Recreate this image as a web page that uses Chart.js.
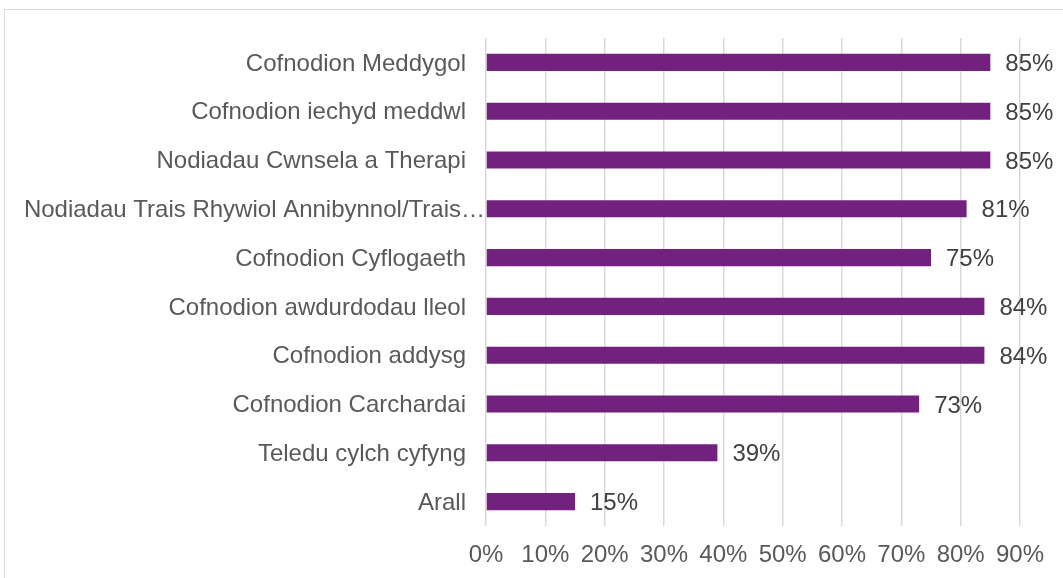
<!DOCTYPE html>
<html>
<head>
<meta charset="utf-8">
<script src="https://cdn.jsdelivr.net/npm/chart.js@4"></script>
<style>
  html, body { margin: 0; padding: 0; background: #ffffff; overflow: hidden; }
  #wrap { position: relative; width: 1063px; height: 578px; }
  #frame { position: absolute; left: 4px; top: 9px; width: 1100px; height: 600px; border: 1px solid #d9d9d9; box-sizing: border-box; }
  canvas { position: absolute; left: 0; top: 0; }
</style>
</head>
<body>
<div id="wrap">
  <div id="frame"></div>
  <canvas id="c" width="1063" height="578"></canvas>
</div>
<script>
const categories = [
  "Cofnodion Meddygol",
  "Cofnodion iechyd meddwl",
  "Nodiadau Cwnsela a Therapi",
  "Nodiadau Trais Rhywiol Annibynnol/Trais…",
  "Cofnodion Cyflogaeth",
  "Cofnodion awdurdodau lleol",
  "Cofnodion addysg",
  "Cofnodion Carchardai",
  "Teledu cylch cyfyng",
  "Arall"
];
const values = [85, 85, 85, 81, 75, 84, 84, 73, 39, 15];
const xTicks = [0, 10, 20, 30, 40, 50, 60, 70, 80, 90];

const FONT = "Liberation Sans, Arial, sans-serif";
const FONT_SIZE = 24;

const labelsPlugin = {
  id: 'labelsPlugin',
  afterDraw(chart) {
    const ctx = chart.ctx;
    const ys = chart.scales.y;
    const area = chart.chartArea;
    ctx.save();
    ctx.font = FONT_SIZE + 'px ' + FONT;
    // category labels
    ctx.fillStyle = '#595959';
    ctx.textAlign = 'right';
    ctx.textBaseline = 'middle';
    const avail = area.left - 27;
    categories.forEach((c, i) => {
      const y = ys.getPixelForTick(i) + 1.5;
      const w = ctx.measureText(c).width;
      const xr = (w + 20 > avail) ? area.left - 1 : area.left - 20;
      ctx.fillText(c, xr, y);
    });
    // data labels
    ctx.fillStyle = '#404040';
    ctx.textAlign = 'left';
    const meta = chart.getDatasetMeta(0);
    meta.data.forEach((bar, i) => {
      ctx.fillText(values[i] + '%', bar.x + 15, bar.y + 2);
    });
    ctx.restore();
  }
};

new Chart(document.getElementById('c'), {
  type: 'bar',
  data: {
    labels: categories,
    datasets: [{
      data: values,
      backgroundColor: '#73217F',
      borderWidth: 0,
      categoryPercentage: 1,
      barPercentage: 0.35
    }]
  },
  options: {
    indexAxis: 'y',
    responsive: false,
    devicePixelRatio: 1,
    animation: false,
    layout: { padding: { top: 38, right: 43, left: 0, bottom: 0 } },
    plugins: { legend: { display: false }, tooltip: { enabled: false } },
    scales: {
      x: {
        min: 0, max: 90,
        afterBuildTicks(scale) { scale.ticks = xTicks.map(v => ({ value: v })); },
        afterFit(scale) { scale.height = 52; },
        grid: { color: '#d9d9d9', lineWidth: 1.5, drawTicks: false },
        border: { display: false },
        ticks: {
          padding: 15,
          color: '#595959',
          font: { family: FONT, size: FONT_SIZE },
          callback: v => v + '%',
          maxRotation: 0
        }
      },
      y: {
        afterFit(scale) { scale.width = 486; },
        grid: { display: false, drawTicks: false },
        border: { display: false },
        ticks: { display: false }
      }
    }
  },
  plugins: [labelsPlugin]
});
</script>
</body>
</html>
